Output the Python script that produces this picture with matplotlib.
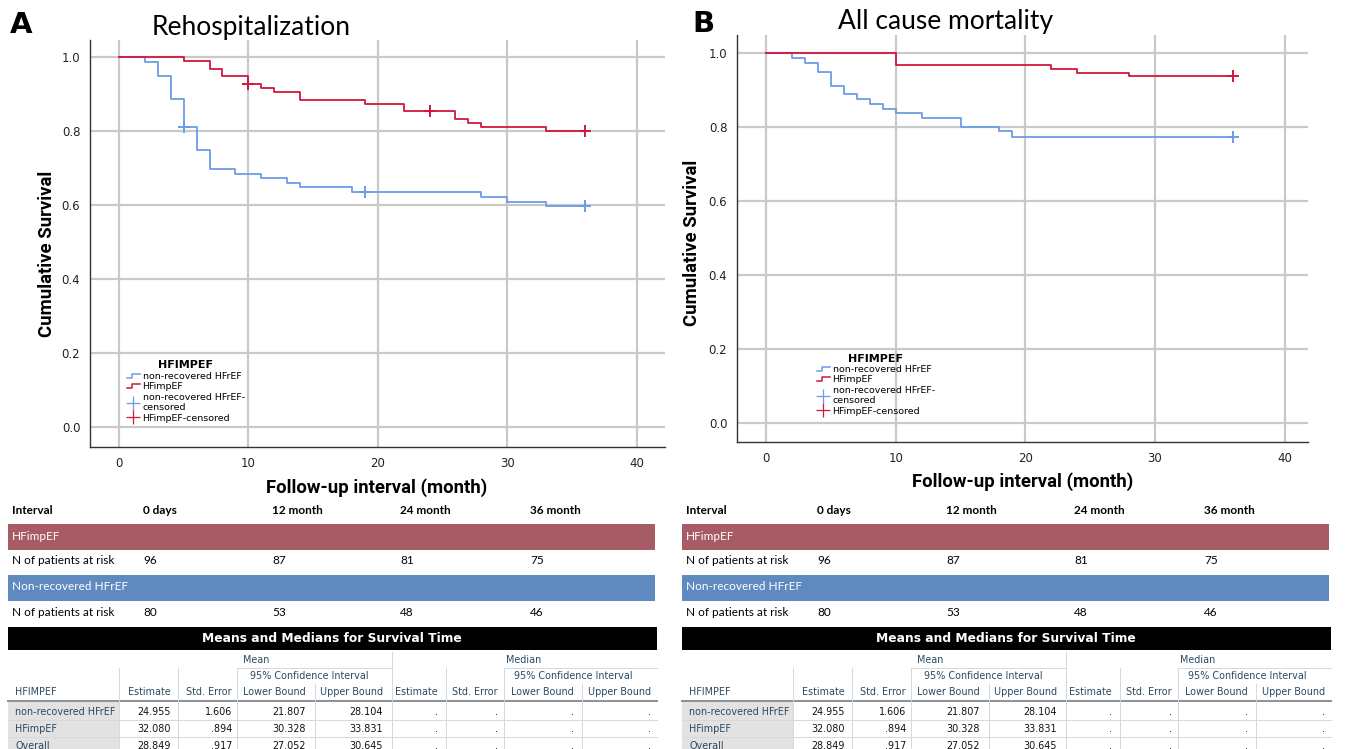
import numpy as np
import matplotlib
matplotlib.use("Agg")
import matplotlib.pyplot as plt
from matplotlib.lines import Line2D
from matplotlib.patches import Rectangle
from matplotlib.legend_handler import HandlerBase

# ---------------- data ----------------
A_red_t = [0, 5, 7, 8, 10, 11, 12, 14, 19, 22, 26, 27, 28, 33, 36]
A_red_s = [1.0, 0.989, 0.968, 0.948, 0.928, 0.916, 0.905, 0.884, 0.874, 0.853, 0.832, 0.821, 0.810, 0.800, 0.800]
A_red_cens = [10, 24, 36]
A_blue_t = [0, 2, 3, 4, 5, 6, 7, 9, 11, 13, 14, 18, 28, 30, 33, 36]
A_blue_s = [1.0, 0.986, 0.948, 0.886, 0.811, 0.750, 0.698, 0.685, 0.673, 0.660, 0.648, 0.635, 0.622, 0.609, 0.597, 0.597]
A_blue_cens = [5, 19, 36]

B_red_t = [0, 10, 22, 24, 28, 36]
B_red_s = [1.0, 0.969, 0.959, 0.948, 0.938, 0.938]
B_red_cens = [36]
B_blue_t = [0, 2, 3, 4, 5, 6, 7, 8, 9, 10, 12, 15, 18, 19, 36]
B_blue_s = [1.0, 0.989, 0.975, 0.950, 0.913, 0.889, 0.876, 0.863, 0.850, 0.838, 0.825, 0.800, 0.789, 0.775, 0.775]
B_blue_cens = [36]

x_ticks = [0, 10, 20, 30, 40]
y_ticks = [0.0, 0.2, 0.4, 0.6, 0.8, 1.0]

risk_header = ["Interval", "0 days", "12 month", "24 month", "36 month"]
risk_impef = [96, 87, 81, 75]
risk_nonrec = [80, 53, 48, 46]

means_groups = ["non-recovered HFrEF", "HFimpEF", "Overall"]
mean_est = ["24.955", "32.080", "28.849"]
mean_se = ["1.606", ".894", ".917"]
mean_lo = ["21.807", "30.328", "27.052"]
mean_hi = ["28.104", "33.831", "30.645"]
med_est = [".", ".", "."]
med_se = [".", ".", "."]
med_lo = [".", ".", "."]
med_hi = [".", ".", "."]
col_heads = ["Estimate", "Std. Error", "Lower Bound", "Upper Bound",
             "Estimate", "Std. Error", "Lower Bound", "Upper Bound"]

# ---------------- styling ----------------
W, H = 1352, 749
BLUE = "#6C9CE6"
RED = "#D0173F"
GRID = "#C9C9C9"

fig = plt.figure(figsize=(W / 100, H / 100), dpi=100)
fig.patch.set_facecolor("white")

def rect(l, t, w, h):
    return [l / W, 1 - (t + h) / H, w / W, h / H]

class StepHandler(HandlerBase):
    def create_artists(self, legend, orig_handle, xdescent, ydescent,
                       width, height, fontsize, trans):
        xs = np.array([0, 0.45, 0.45, 1.0]) * width - xdescent
        ys = np.array([0.15, 0.15, 0.8, 0.8]) * height - ydescent
        ln = Line2D(xs, ys, color=orig_handle.get_color(), lw=1.1, transform=trans)
        return [ln]

def km_panel(ax, rt, rs, rc, bt, bs, bc, xlim, ylim):
    ax.set_xlim(*xlim)
    ax.set_ylim(*ylim)
    ax.set_xticks(x_ticks)
    ax.set_yticks(y_ticks)
    ax.set_yticklabels([f"{v:.1f}" for v in y_ticks])
    ax.grid(True, color=GRID, linewidth=1.6)
    ax.set_axisbelow(True)
    for s in ["top", "right"]:
        ax.spines[s].set_visible(False)
    for s in ["left", "bottom"]:
        ax.spines[s].set_color("#333333")
        ax.spines[s].set_linewidth(1.0)
    ax.tick_params(length=0, labelsize=8.5, colors="#222222", pad=7)
    ax.step(bt, bs, where="post", color=BLUE, lw=1.3)
    ax.step(rt, rs, where="post", color=RED, lw=1.3)
    for t_, s_, c_, col in [(bt, bs, bc, BLUE), (rt, rs, rc, RED)]:
        idx = np.searchsorted(t_, c_, side="right") - 1
        ax.plot(c_, np.array(s_)[idx], linestyle="none", marker="+",
                color=col, markersize=9, mew=1.4)

def add_legend(ax, anchor):
    l1 = Line2D([0], [0], color=BLUE, lw=1.2)
    l2 = Line2D([0], [0], color=RED, lw=1.2)
    handles = [
        l1, l2,
        Line2D([0], [0], color=BLUE, lw=0, marker="+", markersize=10, mew=0.9),
        Line2D([0], [0], color=RED, lw=0, marker="+", markersize=10, mew=0.9),
    ]
    labels = ["non-recovered HFrEF", "HFimpEF",
              "non-recovered HFrEF-\ncensored", "HFimpEF-censored"]
    leg = ax.legend(handles, labels, title="HFIMPEF", loc="upper left",
                    bbox_to_anchor=anchor, bbox_transform=fig.transFigure,
                    frameon=False, fontsize=6.8, handlelength=1.4,
                    handletextpad=0.3, labelspacing=0.15,
                    handler_map={l1: StepHandler(), l2: StepHandler()},
                    title_fontproperties={"weight": "bold", "size": 8})
    return leg

# Panel A
axA = fig.add_axes(rect(90, 40, 575, 407))
km_panel(axA, A_red_t, A_red_s, A_red_cens, A_blue_t, A_blue_s, A_blue_cens,
         (-2.24, 42.2), (-0.054, 1.046))
add_legend(axA, (118 / W, 1 - 352 / H))

# Panel B
axB = fig.add_axes(rect(737, 35, 571, 407))
km_panel(axB, B_red_t, B_red_s, B_red_cens, B_blue_t, B_blue_s, B_blue_cens,
         (-2.24, 41.8), (-0.052, 1.05))
add_legend(axB, (808 / W, 1 - 345 / H))

# ---------------- overlay for text and tables ----------------
top = fig.add_axes([0, 0, 1, 1], zorder=5)
top.set_xlim(0, W)
top.set_ylim(H, 0)
top.axis("off")
top.patch.set_alpha(0)

top.text(10, 25, "A", fontsize=21, fontweight="bold", ha="left", va="center")
top.text(251, 28, "Rehospitalization", fontsize=19, ha="center", va="center", family="Lato")
top.text(692, 24, "B", fontsize=21, fontweight="bold", ha="left", va="center")
top.text(946, 21, "All cause mortality", fontsize=19, ha="center", va="center", family="Lato")

LBL = dict(fontsize=13.3, fontweight="bold", family="Roboto")
top.text(47, 254, "Cumulative Survival", rotation=90, ha="center", va="center", **LBL)
top.text(692, 243, "Cumulative Survival", rotation=90, ha="center", va="center", **LBL)
top.text(377, 488, "Follow-up interval (month)", ha="center", va="center", **LBL)
top.text(1023, 482, "Follow-up interval (month)", ha="center", va="center", **LBL)

TXT = "#2A4A62"

def draw_tables(dx):
    # at-risk table
    xs = [12, 143, 272, 400, 530]
    for x, h in zip(xs, risk_header):
        top.text(x + dx, 511, h, fontsize=8.5, fontweight="bold", ha="left",
                 va="center", family="Lato")
    top.add_patch(Rectangle((8 + dx, 524), 647, 26, color="#A75B64", lw=0))
    top.text(12 + dx, 537, "HFimpEF", fontsize=8.5, color="white", ha="left",
             va="center", family="Lato")
    top.text(12 + dx, 561, "N of patients at risk", fontsize=8.5, ha="left",
             va="center", family="Lato")
    for x, v in zip(xs[1:], risk_impef):
        top.text(x + dx, 561, str(v), fontsize=8.5, ha="left", va="center", family="Lato")
    top.add_patch(Rectangle((8 + dx, 575), 647, 26, color="#5F8ABF", lw=0))
    top.text(12 + dx, 587, "Non-recovered HFrEF", fontsize=8.5, color="white",
             ha="left", va="center", family="Lato")
    top.text(12 + dx, 612, "N of patients at risk", fontsize=8.5, ha="left",
             va="center", family="Lato")
    for x, v in zip(xs[1:], risk_nonrec):
        top.text(x + dx, 612, str(v), fontsize=8.5, ha="left", va="center", family="Lato")

    # means & medians table
    top.add_patch(Rectangle((8 + dx, 627), 649, 23, color="black", lw=0))
    top.text(332 + dx, 638, "Means and Medians for Survival Time", fontsize=8.8,
             fontweight="bold", color="white", ha="center", va="center")
    top.add_patch(Rectangle((8 + dx, 702), 111, 47, color="#E2E2E2", lw=0))
    fs = 6.9
    top.text(256 + dx, 660, "Mean", fontsize=fs, color=TXT, ha="center", va="center")
    top.text(524 + dx, 660, "Median", fontsize=fs, color=TXT, ha="center", va="center")
    top.text(309 + dx, 676, "95% Confidence Interval", fontsize=fs, color=TXT,
             ha="center", va="center")
    top.text(573 + dx, 676, "95% Confidence Interval", fontsize=fs, color=TXT,
             ha="center", va="center")
    top.text(15 + dx, 692, "HFIMPEF", fontsize=fs, color=TXT, ha="left", va="center")
    rights = [171, 232, 306, 383, 438, 498, 574, 651]
    for r, h in zip(rights, col_heads):
        top.text(r + dx, 692, h, fontsize=fs, color=TXT, ha="right", va="center")
    # lines
    top.plot([8 + dx, 657 + dx], [701, 701], color="#8A8F96", lw=1.4)
    for y in [720, 737]:
        top.plot([8 + dx, 657 + dx], [y, y], color="#D5D8DC", lw=0.7)
    for x, y0 in [(119, 668), (178, 668), (237, 668), (315, 684), (392, 652),
                  (446, 668), (504, 668), (582, 684)]:
        top.plot([x + dx, x + dx], [y0, 749], color="#D5D8DC", lw=0.7)
    top.plot([237 + dx, 392 + dx], [668, 668], color="#D5D8DC", lw=0.7)
    top.plot([504 + dx, 657 + dx], [668, 668], color="#D5D8DC", lw=0.7)
    rows_y = [712, 729, 746]
    cols = [mean_est, mean_se, mean_lo, mean_hi, med_est, med_se, med_lo, med_hi]
    for i, (g, y) in enumerate(zip(means_groups, rows_y)):
        top.text(15 + dx, y, g, fontsize=fs, color=TXT, ha="left", va="center")
        for r, col in zip(rights, cols):
            top.text(r + dx, y, col[i], fontsize=fs, color="#111111", ha="right", va="center")

draw_tables(0)
draw_tables(674)

fig.savefig("out.png", dpi=100)
